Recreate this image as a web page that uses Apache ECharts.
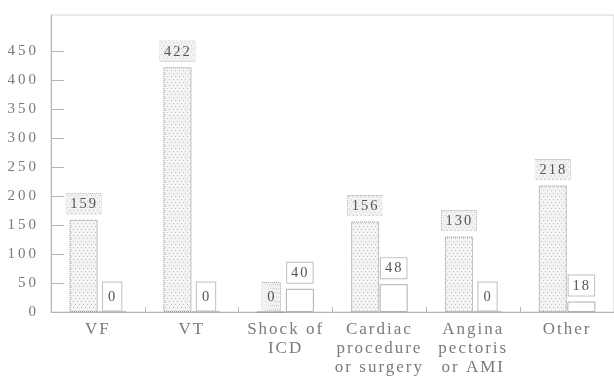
<!DOCTYPE html>
<html>
<head>
<meta charset="utf-8">
<script src="https://cdn.jsdelivr.net/npm/echarts@6/dist/echarts.min.js"></script>
<style>
html,body{margin:0;padding:0;background:#fff;}
#chart{width:614px;height:378px;}
</style>
</head>
<body>
<div id="chart"></div>
<script>
// ---- data ----
const categories = ['VF', 'VT', 'Shock of\nICD', 'Cardiac\nprocedure\nor surgery', 'Angina\npectoris\nor AMI', 'Other'];
const seriesA = [159, 422, 0, 156, 130, 218];
const seriesB = [0, 0, 40, 48, 0, 18];
const yTickValues = [0, 50, 100, 150, 200, 250, 300, 350, 400, 450];

// ---- letter spacing emulation (typewriter-like spacing in the original) ----
(function () {
  const proto = CanvasRenderingContext2D.prototype;
  const desc = Object.getOwnPropertyDescriptor(proto, 'font');
  if (!desc || !('letterSpacing' in proto)) return;
  const spacing = { '15': '3px', '17': '2px', '14.5': '2px' };
  Object.defineProperty(proto, 'font', {
    configurable: true,
    get() { return desc.get.call(this); },
    set(v) {
      desc.set.call(this, v);
      const m = /(\d+(?:\.\d+)?)px/.exec(v);
      const sp = (m && spacing[m[1]]) || '0px';
      try { this.letterSpacing = sp; } catch (e) {}
    }
  });
})();

function dotPattern(w, h) {
  const c = document.createElement('canvas');
  c.width = w; c.height = h;
  const g = c.getContext('2d');
  g.fillStyle = '#f3f3f3';
  g.fillRect(0, 0, w, h);
  g.fillStyle = '#c2c2c2';
  for (let y = 1, r = 0; y < h; y += 3, r++) {
    for (let x = r % 2 === 0 ? 1 : 3; x < w; x += 4) {
      g.fillRect(x, y, 1, 1);
    }
  }
  return c;
}

const barPattern = { image: dotPattern(8, 6), repeat: 'repeat' };
const labelPattern = { image: dotPattern(35, 20) };

const serif = '"Liberation Serif", "DejaVu Serif", serif';

const zeroLabel = { padding: [7, 4, 6, 5], distance: 1 };
function buildData(vals) {
  return vals.map(v => (v === 0 ? { value: v, label: zeroLabel } : v));
}

const chart = echarts.init(document.getElementById('chart'), null, { renderer: 'canvas' });
chart.setOption({
  animation: false,
  backgroundColor: '#fff',
  grid: {
    left: 51, right: -6, top: 15, bottom: 66,
    show: true, borderColor: '#d6d6d6', borderWidth: 1, backgroundColor: 'transparent'
  },
  xAxis: {
    type: 'category',
    data: categories,
    axisLine: { lineStyle: { color: '#b5b5b5', width: 1 } },
    axisTick: { show: true, inside: true, length: 5, lineStyle: { color: '#b5b5b5' } },
    axisLabel: {
      color: '#7a7a7a', fontFamily: serif, fontSize: 17, lineHeight: 19, margin: 8, interval: 0
    },
    splitLine: { show: false }
  },
  yAxis: {
    type: 'value',
    min: 0, max: 512,
    axisLine: { show: true, lineStyle: { color: '#b5b5b5', width: 1 } },
    axisTick: { show: true, inside: true, length: 13, lineStyle: { color: '#b5b5b5' }, customValues: yTickValues },
    axisLabel: { color: '#7a7a7a', fontFamily: serif, fontSize: 15, margin: 12, customValues: yTickValues },
    splitLine: { show: false }
  },
  series: [
    {
      name: 'A',
      type: 'bar',
      data: buildData(seriesA),
      barWidth: 28,
      barGap: '2%',
      itemStyle: { color: barPattern, borderColor: '#8a8a8a', borderWidth: 1, borderType: 'dotted' },
      label: {
        show: true, position: 'top', distance: 6,
        color: '#555', fontFamily: serif, fontSize: 14.5, lineHeight: 15,
        backgroundColor: labelPattern,
        borderColor: '#9a9a9a', borderWidth: 1, borderType: 'dotted',
        padding: [3, 3, 2, 4]
      }
    },
    {
      name: 'B',
      type: 'bar',
      data: buildData(seriesB),
      barWidth: 28,
      itemStyle: { color: '#fff', borderColor: '#b0b0b0', borderWidth: 1 },
      label: {
        show: true, position: 'top', distance: 6,
        color: '#555', fontFamily: serif, fontSize: 14.5, lineHeight: 15,
        backgroundColor: '#fff',
        borderColor: '#c0c0c0', borderWidth: 1,
        padding: [3, 3, 2, 4]
      }
    }
  ]
});
</script>
</body>
</html>
